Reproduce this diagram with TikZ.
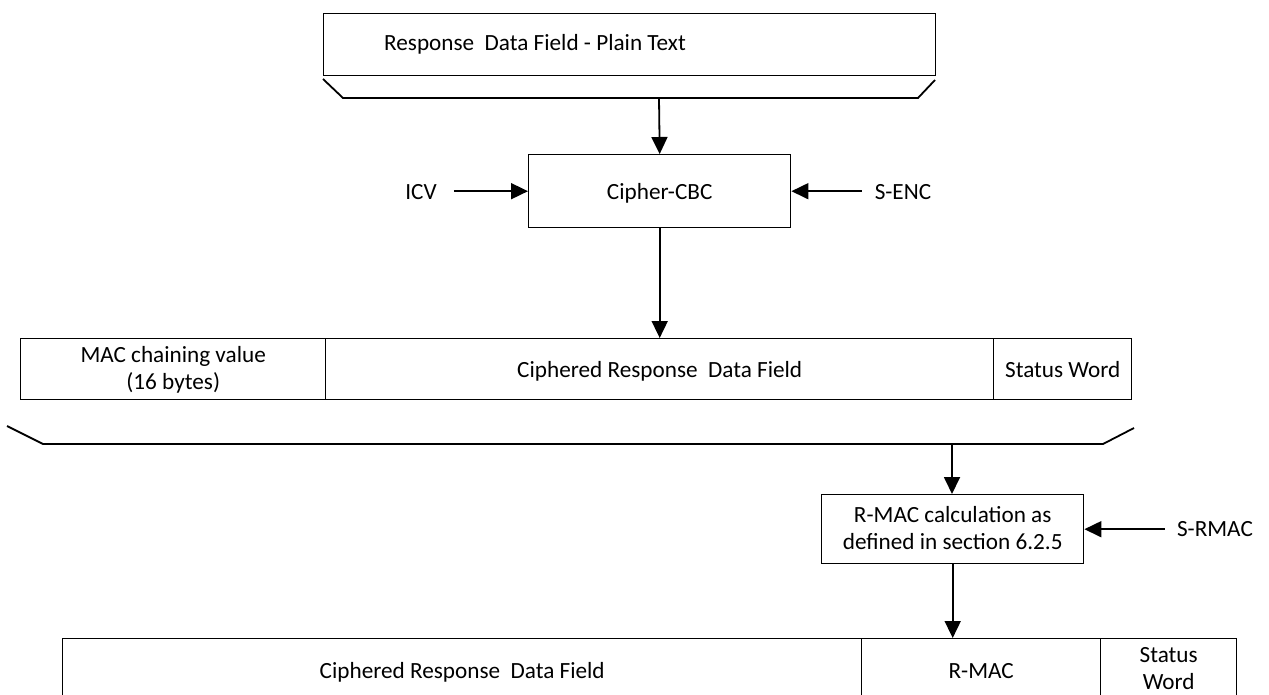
\documentclass[tikz,border=0pt]{standalone}
\usepackage{fontspec}
\setmainfont{Carlito}
\usetikzlibrary{arrows.meta}
\begin{document}
\begin{tikzpicture}[x=1pt,y=-1pt,
  box/.style={draw, line width=1.4pt, inner sep=0pt, anchor=north west, align=center,
    font=\fontsize{23.2}{27.5}\selectfont,
    execute at begin node={\rule{0pt}{25pt}}, execute at end node=\strut},
  lbl/.style={inner sep=0pt, align=center, font=\fontsize{23.2}{27.5}\selectfont,
    execute at begin node=\strut},
  inner/.style={lbl, yshift=-3pt},
  arr/.style={line width=1.8pt, -{Triangle[length=17pt,width=16pt]}},
  brk/.style={line width=1.8pt}]
\useasboundingbox (0,0) rectangle (1269,695);
\clip (0,0) rectangle (1269,695);
% top plain text block
\node[box, minimum width=612pt, minimum height=62pt] (plain) at (323,13) {};
\node[lbl, anchor=west] (plaintxt) at (384,45) {Response\ \ Data Field - Plain Text};
\draw[brk] (323,79) -- (343,98) -- (918,98) -- (935,80);
\coordinate (b1) at (659,98);
% cipher
\node[box, minimum width=262pt, minimum height=73pt] (cbc) at (528,154) {Cipher-CBC};
\node[lbl] (icv) at (421,194) {ICV};
\node[lbl] (senc) at (903,194) {S-ENC};
\draw[arr] (b1) -- (cbc.north);
\draw[arr] ([xshift=17pt]icv.east |- cbc.west) -- (cbc.west);
\draw[arr] ([xshift=-13pt]senc.west |- cbc.east) -- (cbc.east);
% row 2
\node[box, minimum width=305pt, minimum height=61pt] (mac) at (20,338) {};
\node[inner] (mactxt) at (mac.center) {MAC chaining value\\(16 bytes)};
\node[box, minimum width=668pt, minimum height=61pt] (cf) at (325,338) {Ciphered Response\ \ Data Field};
\node[box, minimum width=138pt, minimum height=61pt] (sw) at (993,338) {Status Word};
\draw[arr] (cbc.south) -- (cbc.south |- cf.north);
% bracket 2
\draw[brk] (7,426) -- (43,444) -- (1103,444) -- (1134,428);
\coordinate (b2) at (952,444);
% R-MAC calc
\node[box, minimum width=262pt, minimum height=69pt] (rmac) at (821,494) {};
\node[inner] (rmactxt) at (rmac.center) {R-MAC calculation as\\defined in section 6.2.5};
\node[lbl] (srmac) at (1215,531) {S-RMAC};
\draw[arr] (b2) -- (b2 |- rmac.north);
\draw[arr] ([xshift=-12pt]srmac.west |- rmac.east) -- (rmac.east);
% row 3
\node[box, minimum width=799pt, minimum height=62pt] (cf2) at (62,638) {Ciphered Response\ \ Data Field};
\node[box, minimum width=239pt, minimum height=62pt] (rm) at (861,638) {R-MAC};
\node[box, minimum width=136pt, minimum height=62pt] (sw2) at (1100,638) {};
\node[inner] (sw2txt) at (sw2.center) {Status\\Word};
\draw[arr] (rmac.south) -- (rmac.south |- rm.north);
\end{tikzpicture}
\end{document}
